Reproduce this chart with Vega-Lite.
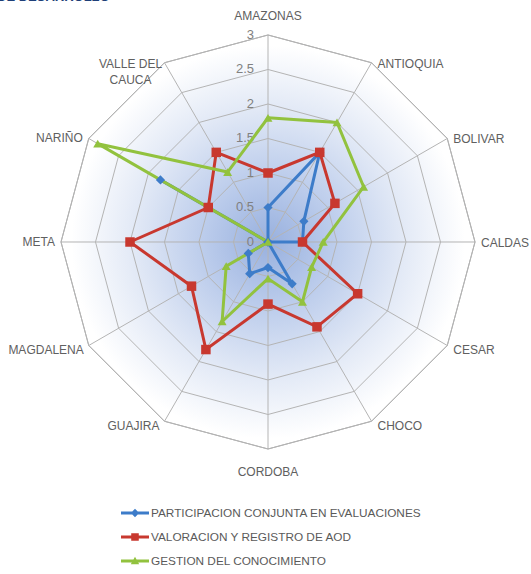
{
  "$schema": "https://vega.github.io/schema/vega-lite/v6.json",
  "width": 531,
  "height": 574,
  "autosize": {"type": "none"},
  "padding": 0,
  "background": "white",
  "config": {"view": {"stroke": null}},
  "title": {
    "text": "DE DESARROLLO",
    "anchor": "start",
    "frame": "group",
    "offset": -4,
    "dx": -3,
    "font": "Liberation Sans",
    "fontSize": 13,
    "fontWeight": "bold",
    "color": "#1e3f78"
  },
  "datasets": {
    "cats": [
      {"cat": "AMAZONAS", "label": "AMAZONAS", "i": 0, "levels": [0.5, 1, 1.5, 2, 2.5, 3]},
      {"cat": "ANTIOQUIA", "label": "ANTIOQUIA", "i": 1, "levels": [0.5, 1, 1.5, 2, 2.5, 3]},
      {"cat": "BOLIVAR", "label": "BOLIVAR", "i": 2, "levels": [0.5, 1, 1.5, 2, 2.5, 3]},
      {"cat": "CALDAS", "label": "CALDAS", "i": 3, "levels": [0.5, 1, 1.5, 2, 2.5, 3]},
      {"cat": "CESAR", "label": "CESAR", "i": 4, "levels": [0.5, 1, 1.5, 2, 2.5, 3]},
      {"cat": "CHOCO", "label": "CHOCO", "i": 5, "levels": [0.5, 1, 1.5, 2, 2.5, 3]},
      {"cat": "CORDOBA", "label": "CORDOBA", "i": 6, "levels": [0.5, 1, 1.5, 2, 2.5, 3]},
      {"cat": "GUAJIRA", "label": "GUAJIRA", "i": 7, "levels": [0.5, 1, 1.5, 2, 2.5, 3]},
      {"cat": "MAGDALENA", "label": "MAGDALENA", "i": 8, "levels": [0.5, 1, 1.5, 2, 2.5, 3]},
      {"cat": "META", "label": "META", "i": 9, "levels": [0.5, 1, 1.5, 2, 2.5, 3]},
      {"cat": "NARIÑO", "label": "NARIÑO", "i": 10, "levels": [0.5, 1, 1.5, 2, 2.5, 3]},
      {"cat": "VALLE DEL CAUCA", "label": "VALLE DEL\nCAUCA", "i": 11, "levels": [0.5, 1, 1.5, 2, 2.5, 3]}
    ],
    "ticks": [{"t": 0}, {"t": 0.5}, {"t": 1}, {"t": 1.5}, {"t": 2}, {"t": 2.5}, {"t": 3}],
    "scores": [
      {"series": "PARTICIPACION CONJUNTA EN EVALUACIONES", "cat": "AMAZONAS", "i": 0, "v": 0.5},
      {"series": "PARTICIPACION CONJUNTA EN EVALUACIONES", "cat": "ANTIOQUIA", "i": 1, "v": 1.5},
      {"series": "PARTICIPACION CONJUNTA EN EVALUACIONES", "cat": "BOLIVAR", "i": 2, "v": 0.6},
      {"series": "PARTICIPACION CONJUNTA EN EVALUACIONES", "cat": "CALDAS", "i": 3, "v": 0.5},
      {"series": "PARTICIPACION CONJUNTA EN EVALUACIONES", "cat": "CESAR", "i": 4, "v": 0},
      {"series": "PARTICIPACION CONJUNTA EN EVALUACIONES", "cat": "CHOCO", "i": 5, "v": 0.7},
      {"series": "PARTICIPACION CONJUNTA EN EVALUACIONES", "cat": "CORDOBA", "i": 6, "v": 0.37},
      {"series": "PARTICIPACION CONJUNTA EN EVALUACIONES", "cat": "GUAJIRA", "i": 7, "v": 0.53},
      {"series": "PARTICIPACION CONJUNTA EN EVALUACIONES", "cat": "MAGDALENA", "i": 8, "v": 0.33},
      {"series": "PARTICIPACION CONJUNTA EN EVALUACIONES", "cat": "META", "i": 9, "v": 0},
      {"series": "PARTICIPACION CONJUNTA EN EVALUACIONES", "cat": "NARIÑO", "i": 10, "v": 1.8},
      {"series": "PARTICIPACION CONJUNTA EN EVALUACIONES", "cat": "VALLE DEL CAUCA", "i": 11, "v": 0},
      {"series": "VALORACION Y REGISTRO DE AOD", "cat": "AMAZONAS", "i": 0, "v": 1.0},
      {"series": "VALORACION Y REGISTRO DE AOD", "cat": "ANTIOQUIA", "i": 1, "v": 1.5},
      {"series": "VALORACION Y REGISTRO DE AOD", "cat": "BOLIVAR", "i": 2, "v": 1.12},
      {"series": "VALORACION Y REGISTRO DE AOD", "cat": "CALDAS", "i": 3, "v": 0.5},
      {"series": "VALORACION Y REGISTRO DE AOD", "cat": "CESAR", "i": 4, "v": 1.5},
      {"series": "VALORACION Y REGISTRO DE AOD", "cat": "CHOCO", "i": 5, "v": 1.42},
      {"series": "VALORACION Y REGISTRO DE AOD", "cat": "CORDOBA", "i": 6, "v": 0.9},
      {"series": "VALORACION Y REGISTRO DE AOD", "cat": "GUAJIRA", "i": 7, "v": 1.8},
      {"series": "VALORACION Y REGISTRO DE AOD", "cat": "MAGDALENA", "i": 8, "v": 1.28},
      {"series": "VALORACION Y REGISTRO DE AOD", "cat": "META", "i": 9, "v": 2.0},
      {"series": "VALORACION Y REGISTRO DE AOD", "cat": "NARIÑO", "i": 10, "v": 1.0},
      {"series": "VALORACION Y REGISTRO DE AOD", "cat": "VALLE DEL CAUCA", "i": 11, "v": 1.5},
      {"series": "GESTION DEL CONOCIMIENTO", "cat": "AMAZONAS", "i": 0, "v": 1.8},
      {"series": "GESTION DEL CONOCIMIENTO", "cat": "ANTIOQUIA", "i": 1, "v": 2.0},
      {"series": "GESTION DEL CONOCIMIENTO", "cat": "BOLIVAR", "i": 2, "v": 1.6},
      {"series": "GESTION DEL CONOCIMIENTO", "cat": "CALDAS", "i": 3, "v": 0.8},
      {"series": "GESTION DEL CONOCIMIENTO", "cat": "CESAR", "i": 4, "v": 0.73},
      {"series": "GESTION DEL CONOCIMIENTO", "cat": "CHOCO", "i": 5, "v": 1.0},
      {"series": "GESTION DEL CONOCIMIENTO", "cat": "CORDOBA", "i": 6, "v": 0.53},
      {"series": "GESTION DEL CONOCIMIENTO", "cat": "GUAJIRA", "i": 7, "v": 1.33},
      {"series": "GESTION DEL CONOCIMIENTO", "cat": "MAGDALENA", "i": 8, "v": 0.7},
      {"series": "GESTION DEL CONOCIMIENTO", "cat": "META", "i": 9, "v": 0},
      {"series": "GESTION DEL CONOCIMIENTO", "cat": "NARIÑO", "i": 10, "v": 2.85},
      {"series": "GESTION DEL CONOCIMIENTO", "cat": "VALLE DEL CAUCA", "i": 11, "v": 1.17}
    ]
  },
  "encoding": {
    "x": {"field": "x", "type": "quantitative", "scale": {"domain": [-3.8841, 3.8116], "nice": false, "zero": false}, "axis": null},
    "y": {"field": "y", "type": "quantitative", "scale": {"domain": [-4.8116, 3.5072], "nice": false, "zero": false}, "axis": null}
  },
  "layer": [
    {
      "data": {"name": "cats"},
      "transform": [
        {"calculate": "datum.i * PI / 6", "as": "a"},
        {"calculate": "3 * sin(datum.a)", "as": "x"},
        {"calculate": "3 * cos(datum.a)", "as": "y"}
      ],
      "mark": {
        "type": "line",
        "interpolate": "linear-closed",
        "fill": {
          "gradient": "radial",
          "x1": 0.5, "y1": 0.5, "r1": 0,
          "x2": 0.5, "y2": 0.5, "r2": 0.5,
          "stops": [
            {"offset": 0, "color": "#98b0de"},
            {"offset": 0.3, "color": "#bacbeb"},
            {"offset": 0.65, "color": "#e2e9f6"},
            {"offset": 0.95, "color": "#ffffff"}
          ]
        },
        "stroke": "#a9a9a9",
        "strokeWidth": 1
      },
      "encoding": {"order": {"field": "i", "type": "quantitative"}}
    },
    {
      "data": {"name": "cats"},
      "transform": [
        {"flatten": ["levels"], "as": ["lv"]},
        {"calculate": "datum.i * PI / 6", "as": "a"},
        {"calculate": "datum.lv * sin(datum.a)", "as": "x"},
        {"calculate": "datum.lv * cos(datum.a)", "as": "y"}
      ],
      "mark": {"type": "line", "interpolate": "linear-closed", "stroke": "#b4b4b4", "strokeWidth": 1},
      "encoding": {
        "detail": {"field": "lv", "type": "nominal"},
        "order": {"field": "i", "type": "quantitative"}
      }
    },
    {
      "data": {"name": "cats"},
      "transform": [
        {"calculate": "datum.i * PI / 6", "as": "a"},
        {"calculate": "3 * sin(datum.a)", "as": "x"},
        {"calculate": "3 * cos(datum.a)", "as": "y"}
      ],
      "mark": {"type": "rule", "stroke": "#b4b4b4", "strokeWidth": 1},
      "encoding": {"x2": {"datum": 0}, "y2": {"datum": 0}}
    },
    {
      "data": {"name": "ticks"},
      "transform": [
        {"calculate": "0", "as": "x"},
        {"calculate": "datum.t", "as": "y"}
      ],
      "mark": {"type": "text", "align": "right", "baseline": "middle", "dx": -14, "font": "Liberation Sans", "fontSize": 13, "fill": "#808080"},
      "encoding": {"text": {"field": "t", "type": "quantitative", "format": ".1~f"}}
    },
    {
      "data": {"name": "scores"},
      "transform": [
        {"calculate": "datum.i * PI / 6", "as": "a"},
        {"calculate": "datum.v * sin(datum.a)", "as": "x"},
        {"calculate": "datum.v * cos(datum.a)", "as": "y"}
      ],
      "mark": {"type": "line", "interpolate": "linear-closed", "strokeWidth": 3},
      "encoding": {
        "color": {
          "field": "series",
          "type": "nominal",
          "scale": {
            "domain": ["PARTICIPACION CONJUNTA EN EVALUACIONES", "VALORACION Y REGISTRO DE AOD", "GESTION DEL CONOCIMIENTO"],
            "range": ["#3d7cc9", "#c8382f", "#92c23e"]
          },
          "legend": {
            "orient": "none",
            "legendX": 121,
            "legendY": 499,
            "title": null,
            "padding": 0,
            "symbolSize": 784,
            "symbolStrokeWidth": 0,
            "labelFont": "Liberation Sans",
            "labelFontSize": 11.8,
            "labelColor": "#5a5a5a",
            "labelOffset": 2,
            "labelLimit": 500,
            "rowPadding": 3,
            "encode": {
              "symbols": {
                "update": {
                  "shape": {"signal": "datum.value == 'PARTICIPACION CONJUNTA EN EVALUACIONES' ? 'M-1,-0.11L1,-0.11L1,0.11L-1,0.11Z M0,-0.3L0.3,0L0,0.3L-0.3,0Z' : datum.value == 'VALORACION Y REGISTRO DE AOD' ? 'M-1,-0.11L1,-0.11L1,0.11L-1,0.11Z M-0.27,-0.27L0.27,-0.27L0.27,0.27L-0.27,0.27Z' : 'M-1,-0.11L1,-0.11L1,0.11L-1,0.11Z M0,-0.3L0.3,0.24L-0.3,0.24Z'"},
                  "fill": {"scale": "color", "field": "value"},
                  "fillOpacity": {"value": 1},
                  "strokeWidth": {"value": 0}
                }
              }
            }
          }
        },
        "order": {"field": "i", "type": "quantitative"}
      }
    },
    {
      "data": {"name": "scores"},
      "transform": [
        {"filter": "datum.series == 'PARTICIPACION CONJUNTA EN EVALUACIONES'"},
        {"calculate": "datum.i * PI / 6", "as": "a"},
        {"calculate": "datum.v * sin(datum.a)", "as": "x"},
        {"calculate": "datum.v * cos(datum.a)", "as": "y"}
      ],
      "mark": {"type": "point", "shape": "diamond", "filled": true, "opacity": 1, "size": 85, "color": "#3d7cc9"},
      "encoding": {}
    },
    {
      "data": {"name": "scores"},
      "transform": [
        {"filter": "datum.series == 'VALORACION Y REGISTRO DE AOD'"},
        {"calculate": "datum.i * PI / 6", "as": "a"},
        {"calculate": "datum.v * sin(datum.a)", "as": "x"},
        {"calculate": "datum.v * cos(datum.a)", "as": "y"}
      ],
      "mark": {"type": "point", "shape": "square", "filled": true, "opacity": 1, "size": 90, "color": "#c8382f"},
      "encoding": {}
    },
    {
      "data": {"name": "scores"},
      "transform": [
        {"filter": "datum.series == 'GESTION DEL CONOCIMIENTO'"},
        {"calculate": "datum.i * PI / 6", "as": "a"},
        {"calculate": "datum.v * sin(datum.a)", "as": "x"},
        {"calculate": "datum.v * cos(datum.a)", "as": "y"}
      ],
      "mark": {"type": "point", "shape": "triangle-up", "filled": true, "opacity": 1, "size": 80, "color": "#92c23e"},
      "encoding": {}
    },
    {
      "data": {"name": "cats"},
      "transform": [
        {"filter": "datum.i >= 1 && datum.i <= 3"},
        {"calculate": "datum.i * PI / 6", "as": "a"},
        {"calculate": "3 * sin(datum.a)", "as": "x"},
        {"calculate": "3 * cos(datum.a)", "as": "y"}
      ],
      "mark": {"type": "text", "align": "left", "baseline": "middle", "dx": 6, "dy": 1, "font": "Liberation Sans", "fontSize": 12, "fill": "#606060"},
      "encoding": {"text": {"field": "label", "type": "nominal"}}
    },
    {
      "data": {"name": "cats"},
      "transform": [
        {"filter": "datum.i >= 4 && datum.i <= 5"},
        {"calculate": "datum.i * PI / 6", "as": "a"},
        {"calculate": "3 * sin(datum.a)", "as": "x"},
        {"calculate": "3 * cos(datum.a)", "as": "y"}
      ],
      "mark": {"type": "text", "align": "left", "baseline": "top", "dx": 6, "dy": 0, "font": "Liberation Sans", "fontSize": 12, "fill": "#606060"},
      "encoding": {"text": {"field": "label", "type": "nominal"}}
    },
    {
      "data": {"name": "cats"},
      "transform": [
        {"filter": "datum.i >= 7 && datum.i <= 8"},
        {"calculate": "datum.i * PI / 6", "as": "a"},
        {"calculate": "3 * sin(datum.a)", "as": "x"},
        {"calculate": "3 * cos(datum.a)", "as": "y"}
      ],
      "mark": {"type": "text", "align": "right", "baseline": "top", "dx": -5, "dy": 0, "font": "Liberation Sans", "fontSize": 12, "fill": "#606060"},
      "encoding": {"text": {"field": "label", "type": "nominal"}}
    },
    {
      "data": {"name": "cats"},
      "transform": [
        {"filter": "datum.i >= 9 && datum.i <= 10"},
        {"calculate": "datum.i * PI / 6", "as": "a"},
        {"calculate": "3 * sin(datum.a)", "as": "x"},
        {"calculate": "3 * cos(datum.a)", "as": "y"}
      ],
      "mark": {"type": "text", "align": "right", "baseline": "middle", "dx": -6, "dy": 0, "font": "Liberation Sans", "fontSize": 12, "fill": "#606060"},
      "encoding": {"text": {"field": "label", "type": "nominal"}}
    },
    {
      "data": {"name": "cats"},
      "transform": [
        {"filter": "datum.i == 11"},
        {"calculate": "datum.i * PI / 6", "as": "a"},
        {"calculate": "3 * sin(datum.a)", "as": "x"},
        {"calculate": "3 * cos(datum.a)", "as": "y"}
      ],
      "mark": {"type": "text", "align": "center", "baseline": "bottom", "lineBreak": "\n", "dx": -34, "dy": 8, "font": "Liberation Sans", "fontSize": 12, "lineHeight": 16, "fill": "#606060"},
      "encoding": {"text": {"field": "label", "type": "nominal"}}
    },
    {
      "data": {"name": "cats"},
      "transform": [
        {"filter": "datum.i == 0 || datum.i == 6"},
        {"calculate": "datum.i * PI / 6", "as": "a"},
        {"calculate": "3 * sin(datum.a)", "as": "x"},
        {"calculate": "3 * cos(datum.a) + (datum.i == 0 ? 0.27 : -0.33)", "as": "y"}
      ],
      "mark": {"type": "text", "align": "center", "baseline": "middle", "font": "Liberation Sans", "fontSize": 12, "fill": "#606060"},
      "encoding": {"text": {"field": "label", "type": "nominal"}}
    }
  ]
}
